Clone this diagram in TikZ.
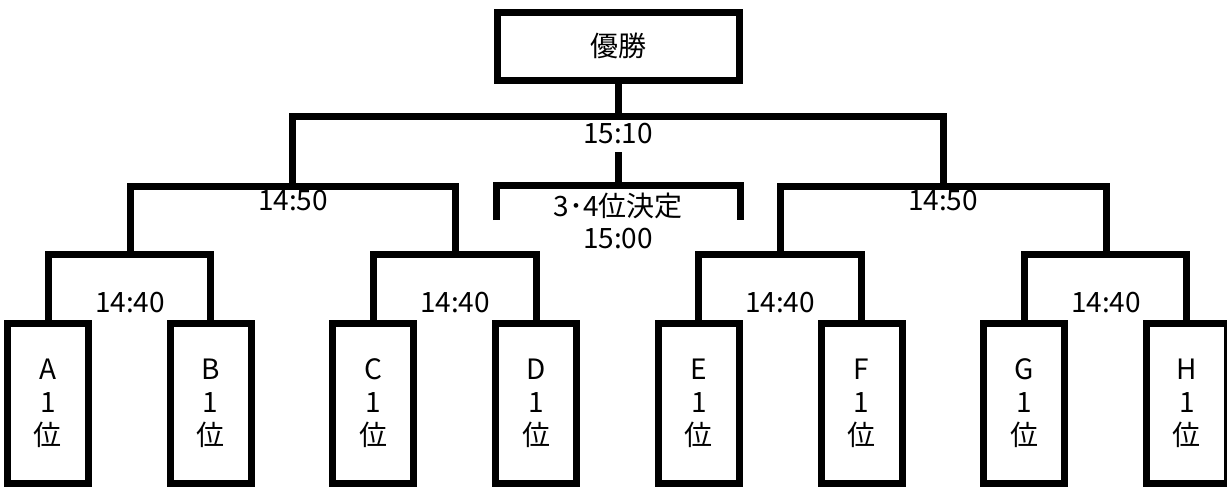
\documentclass[tikz,border=0pt]{standalone}
\usepackage{fontspec}
\setmainfont{Noto Sans CJK JP}

\begin{document}
\begin{tikzpicture}[x=1pt, y=-1pt, line width=7pt, line join=miter,
    team/.style={draw, minimum width=81pt, minimum height=160pt, inner sep=0pt, align=center, font=\fontsize{28}{33}\selectfont},
    time/.style={align=center, font=\fontsize{28}{32}\selectfont}]
    \useasboundingbox (0,0) rectangle (1227,488);

    \node[draw, minimum width=242pt, minimum height=68pt, font=\fontsize{28}{33}\selectfont] (win) at (618,46) {優勝};

    \foreach \n/\t [count=\i from 0] in {a/A,b/B,c/C,d/D,e/E,f/F,g/G,h/H} {
        \node[team] (\n) at (48+162.7*\i,403.5) {\t\\1\\位};
    }

    \coordinate (ab) at (130,254);
    \coordinate (cd) at (455,254);
    \coordinate (ef) at (780,254);
    \coordinate (gh) at (1106,254);
    \coordinate (sl) at (292,186);
    \coordinate (sr) at (943,186);
    \coordinate (fin) at (618,116);
    \coordinate (third) at (618,185);
    \coordinate (stem) at (618,152);
    \coordinate (tl) at (496,220);
    \coordinate (tr) at (740,220);

    \draw (a.north) |- (ab) -| (b.north);
    \draw (c.north) |- (cd) -| (d.north);
    \draw (e.north) |- (ef) -| (f.north);
    \draw (g.north) |- (gh) -| (h.north);
    \draw (ab) |- (sl) -| (cd);
    \draw (ef) |- (sr) -| (gh);
    \draw (sl) |- (fin) -| (sr);
    \draw (fin) -- (win.south);
    \draw (tl) |- (third) -| (tr);
    \draw (stem) -- (third);

    \node[time] (tab) at (130,303) {14:40};
    \node[time] (tcd) at (455,303) {14:40};
    \node[time] (tef) at (780,303) {14:40};
    \node[time] (tgh) at (1106,303) {14:40};
    \node[time] (tsl) at (293,201) {14:50};
    \node[time] (tsr) at (943,201) {14:50};
    \node[time] (tfin) at (618,134) {15:10};
    \node[time] (tthird) at (618,221) {3･4位決定\\15:00};
\end{tikzpicture}
\end{document}
